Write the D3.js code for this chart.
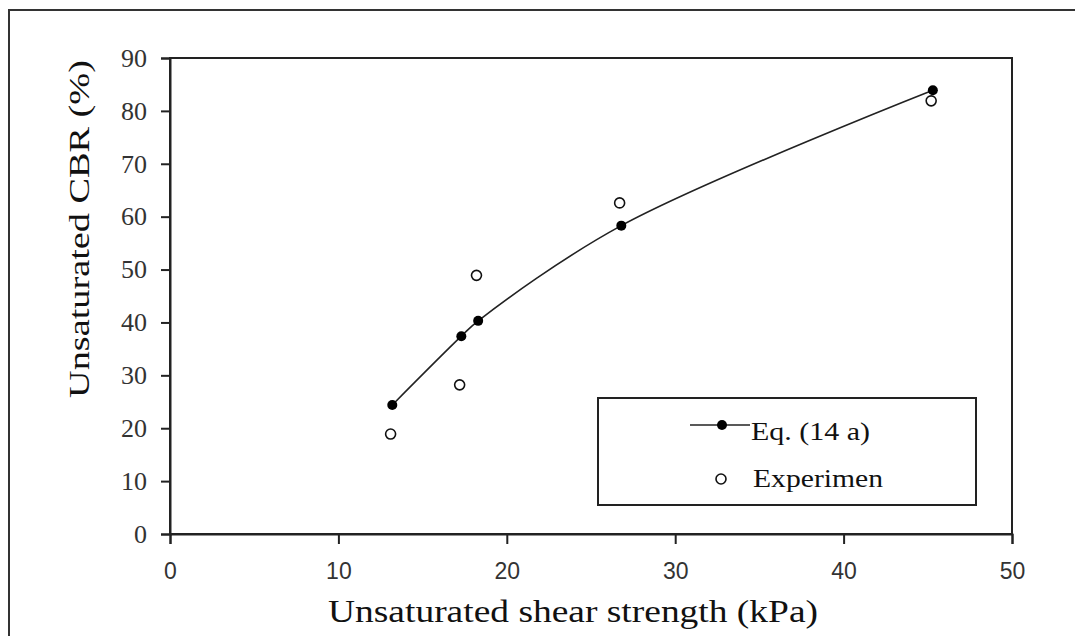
<!DOCTYPE html>
<html>
<head>
<meta charset="utf-8">
<script src="https://cdn.jsdelivr.net/npm/d3@7"></script>
<style>
  body { margin: 0; background: #fff; }
  svg { display: block; }
</style>
</head>
<body>
<div id="chart"></div>
<script>
// Eq. (14 a) predictions
const eqShear = [13.2, 17.3, 18.3, 26.8, 45.3];
const eqCBR = [24.4, 37.4, 40.3, 58.3, 83.9];

// experimental values
const expShear = [13.1, 17.2, 18.2, 26.7, 45.2];
const expCBR = [18.9, 28.2, 48.9, 62.6, 81.9];

const xTicks = [0, 10, 20, 30, 40, 50];
const yTicks = [0, 10, 20, 30, 40, 50, 60, 70, 80, 90];
const legendLabels = ["Eq. (14 a)", "Experimen"];

const W = 1075, H = 636;
const margin = {top: 58, right: 63, bottom: 102, left: 170};
const serif = "'Liberation Serif', 'Times New Roman', Tinos, serif";

const svg = d3.select("#chart").append("svg")
    .attr("width", W)
    .attr("height", H);

// outer frame (runs off the right and bottom edges)
svg.append("rect")
    .attr("x", 9).attr("y", 10)
    .attr("width", W + 20).attr("height", H + 20)
    .attr("fill", "none")
    .attr("stroke", "#333")
    .attr("stroke-width", 2);

const x = d3.scaleLinear().domain([0, 50]).range([margin.left, W - margin.right]);
const y = d3.scaleLinear().domain([0, 90]).range([H - margin.bottom, margin.top]);

// plot box
svg.append("rect")
    .attr("x", x(0)).attr("y", y(90))
    .attr("width", x(50) - x(0)).attr("height", y(0) - y(90))
    .attr("fill", "none")
    .attr("stroke", "#222")
    .attr("stroke-width", 2);

// axes
const xAxis = d3.axisBottom(x).tickValues(xTicks).tickSize(10).tickPadding(19).tickFormat(d3.format("d"));
const yAxis = d3.axisLeft(y).tickValues(yTicks).tickSize(9).tickPadding(14).tickFormat(d3.format("d"));

const gx = svg.append("g")
    .attr("transform", "translate(0," + y(0) + ")")
    .call(xAxis);
gx.select(".domain").attr("stroke", "#222").attr("stroke-width", 2);
gx.selectAll(".tick line").attr("stroke", "#222").attr("stroke-width", 2);
gx.selectAll(".tick text")
    .attr("font-family", "'Liberation Sans', Arial, sans-serif")
    .attr("font-size", 23)
    .attr("fill", "#333");

const gy = svg.append("g")
    .attr("transform", "translate(" + x(0) + ",0)")
    .call(yAxis);
gy.select(".domain").attr("stroke", "#222").attr("stroke-width", 2);
gy.selectAll(".tick line").attr("stroke", "#222").attr("stroke-width", 2);
gy.selectAll(".tick text")
    .attr("font-family", serif)
    .attr("font-size", 26)
    .attr("fill", "#333");

// axis titles
svg.append("text")
    .attr("x", 328).attr("y", 622)
    .attr("font-family", serif)
    .attr("font-size", 32)
    .attr("textLength", 490)
    .attr("lengthAdjust", "spacingAndGlyphs")
    .attr("fill", "#111")
    .text("Unsaturated shear strength (kPa)");

svg.append("text")
    .attr("transform", "translate(89,398) rotate(-90)")
    .attr("font-family", serif)
    .attr("font-size", 30)
    .attr("textLength", 338)
    .attr("lengthAdjust", "spacingAndGlyphs")
    .attr("fill", "#111")
    .text("Unsaturated CBR (%)");

// smoothed prediction line
const eqData = eqShear.map((d, i) => ({x: d, y: eqCBR[i]}));
const expData = expShear.map((d, i) => ({x: d, y: expCBR[i]}));

const line = d3.line()
    .x(d => x(d.x))
    .y(d => y(d.y))
    .curve(d3.curveCatmullRom);

svg.append("path")
    .datum(eqData)
    .attr("fill", "none")
    .attr("stroke", "#222")
    .attr("stroke-width", 1.6)
    .attr("d", line);

svg.selectAll(".eq-dot")
    .data(eqData)
    .enter().append("circle")
    .attr("class", "eq-dot")
    .attr("cx", d => x(d.x))
    .attr("cy", d => y(d.y))
    .attr("r", 5)
    .attr("fill", "#000");

svg.selectAll(".exp-dot")
    .data(expData)
    .enter().append("circle")
    .attr("class", "exp-dot")
    .attr("cx", d => x(d.x))
    .attr("cy", d => y(d.y))
    .attr("r", 5)
    .attr("fill", "#fff")
    .attr("stroke", "#111")
    .attr("stroke-width", 1.6);

// legend
const legend = svg.append("g");
legend.append("rect")
    .attr("x", 598).attr("y", 398)
    .attr("width", 378).attr("height", 107)
    .attr("fill", "#fff")
    .attr("stroke", "#222")
    .attr("stroke-width", 2);

legend.append("line")
    .attr("x1", 690).attr("x2", 750)
    .attr("y1", 425).attr("y2", 425)
    .attr("stroke", "#222")
    .attr("stroke-width", 1.6);
legend.append("circle")
    .attr("cx", 722).attr("cy", 425).attr("r", 5)
    .attr("fill", "#000");
legend.append("circle")
    .attr("cx", 721).attr("cy", 479).attr("r", 5)
    .attr("fill", "#fff").attr("stroke", "#111").attr("stroke-width", 1.6);

legend.selectAll(".legend-label")
    .data(legendLabels)
    .enter().append("text")
    .attr("class", "legend-label")
    .attr("x", (d, i) => i === 0 ? 751 : 753)
    .attr("y", (d, i) => i === 0 ? 440 : 487)
    .attr("font-family", serif)
    .attr("font-size", 26)
    .attr("textLength", (d, i) => i === 0 ? 119 : 130)
    .attr("lengthAdjust", "spacingAndGlyphs")
    .attr("fill", "#111")
    .text(d => d);
</script>
</body>
</html>
